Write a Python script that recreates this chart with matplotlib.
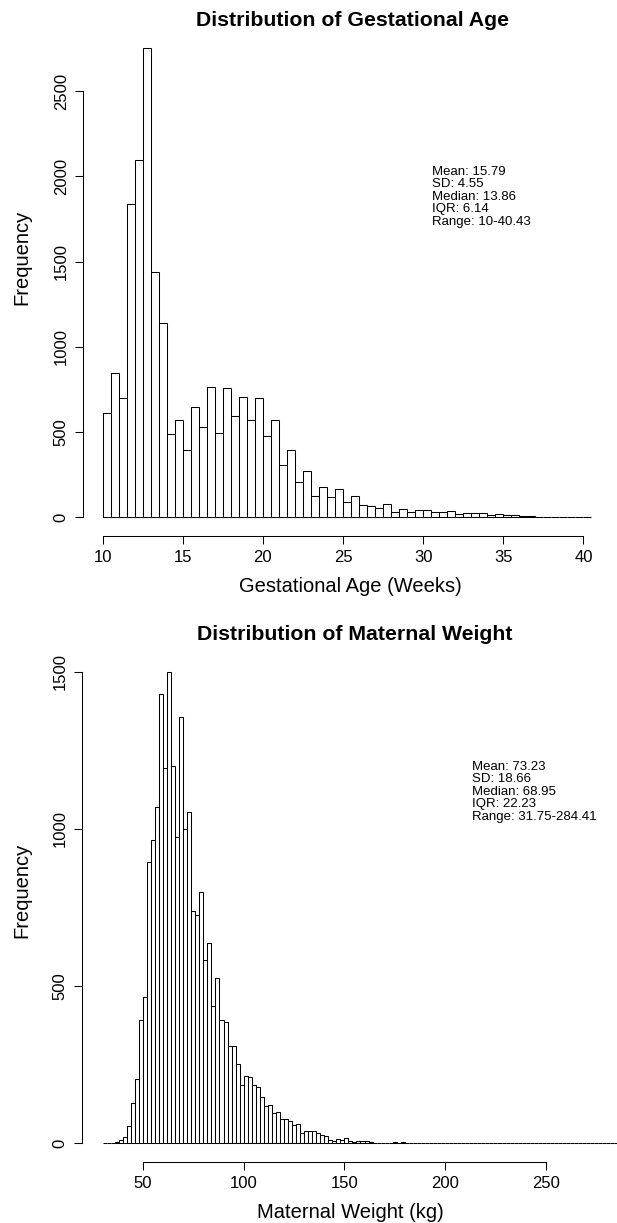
import numpy as np
import matplotlib
matplotlib.use("Agg")
import matplotlib.pyplot as plt

plt.rcParams['font.family'] = ['Liberation Sans', 'DejaVu Sans']

W, H = 617, 1223

# gestational age histogram, bins of 0.5 weeks starting at 10
ga_start = 10.0
ga_width = 0.5
ga_counts = [608, 845, 696, 1839, 2098, 2752, 1437, 1137, 487, 571,
             392, 643, 529, 762, 494, 755, 594, 702, 571, 696,
             474, 571, 308, 391, 207, 267, 125, 178, 119, 167,
             90, 124, 71, 65, 55, 77, 27, 49, 31, 41,
             41, 29, 29, 35, 18, 22, 22, 24, 12, 18,
             12, 12, 6, 3, 2, 2, 1, 1, 1, 0, 1]
ga_xticks = [10, 15, 20, 25, 30, 35, 40]
ga_yticks = [0, 500, 1000, 1500, 2000, 2500]
ga_stats = ["Mean: 15.79", "SD: 4.55", "Median: 13.86", "IQR: 6.14", "Range: 10-40.43"]

# maternal weight histogram, bins of 2 kg starting at 30
mw_start = 30
mw_width = 2
mw_counts = [1, 1, 2, 4, 9, 19, 55, 127, 205, 393,
             464, 896, 964, 1069, 1431, 1193, 1500, 1199, 973, 1356,
             1001, 1053, 740, 726, 798, 582, 638, 435, 527, 393,
             386, 310, 308, 251, 186, 213, 211, 186, 178, 148,
             118, 121, 95, 98, 76, 76, 69, 58, 62, 33,
             40, 38, 38, 33, 26, 24, 11, 8, 14, 9,
             17, 8, 4, 8, 8, 8, 3, 1, 1, 1,
             0, 1, 4, 1, 4, 1, 0, 0, 0, 0,
             0, 1, 0, 0, 0, 0, 0, 0, 0, 0,
             0, 0, 0, 0, 0, 0, 0, 0, 0, 0,
             0, 0, 0, 0, 0, 0, 0, 0, 0, 0,
             0, 0, 0, 0, 0, 0, 0, 0, 0, 0,
             0, 0, 0, 0, 0, 0, 0, 1]
mw_xticks = [50, 100, 150, 200, 250]
mw_yticks = [0, 500, 1000, 1500]
mw_stats = ["Mean: 73.23", "SD: 18.66", "Median: 68.95", "IQR: 22.23", "Range: 31.75-284.41"]


def px_rect(left, top, right, bottom):
    return [left / W, 1 - bottom / H, (right - left) / W, (bottom - top) / H]


def r_hist(ax, start, width, counts, xticks, yticks):
    counts = np.array(counts)
    edges = start + width * np.arange(len(counts) + 1)
    ax.bar(edges[:-1], counts, width=width, align="edge",
           facecolor="white", edgecolor="black", linewidth=0.75)
    # R style 4% axis extension
    xr = edges[-1] - edges[0]
    ax.set_xlim(edges[0] - 0.04 * xr, edges[-1] + 0.04 * xr)
    ym = counts.max()
    ax.set_ylim(-0.04 * ym, 1.04 * ym)

    for s in ["top", "right"]:
        ax.spines[s].set_visible(False)
    ax.spines["bottom"].set_bounds(xticks[0], xticks[-1])
    ax.spines["left"].set_bounds(yticks[0], yticks[-1])
    for s in ["bottom", "left"]:
        ax.spines[s].set_linewidth(0.75)
    ax.set_xticks(xticks)
    ax.set_yticks(yticks)
    ax.tick_params(direction="out", length=5.8, width=0.75, labelsize=12, pad=4.5)
    ax.set_yticklabels([str(t) for t in yticks], rotation=90, va="center")
    ax.patch.set_visible(False)


def px_text(x, y, s, **kw):
    fig.text(x / W, 1 - y / H, s, **kw)


fig = plt.figure(figsize=(W / 100, H / 100), dpi=100)

ax1 = fig.add_axes(px_rect(83, 29.6, 611, 535.7))
r_hist(ax1, ga_start, ga_width, ga_counts, ga_xticks, ga_yticks)

ax2 = fig.add_axes(px_rect(82, 653, 639, 1162))
r_hist(ax2, mw_start, mw_width, mw_counts, mw_xticks, mw_yticks)

px_text(353, 20, "Distribution of Gestational Age", ha="center", va="center",
        fontsize=15.3, fontweight="bold")
px_text(350, 587, "Gestational Age (Weeks)", ha="center", va="center", fontsize=14.5)
px_text(22, 257, "Frequency", ha="center", va="center", rotation=90, fontsize=14.5)

px_text(355, 635, "Distribution of Maternal Weight", ha="center", va="center",
        fontsize=15.3, fontweight="bold")
px_text(350, 1212, "Maternal Weight (kg)", ha="center", va="center", fontsize=14.5)
px_text(22, 890, "Frequency", ha="center", va="center", rotation=90, fontsize=14.5)

for i, line in enumerate(ga_stats):
    px_text(432, 172 + 12.4 * i, line, ha="left", va="center", fontsize=9.5)
for i, line in enumerate(mw_stats):
    px_text(472, 767 + 12.4 * i, line, ha="left", va="center", fontsize=9.5)

fig.savefig("out.png", dpi=100)
